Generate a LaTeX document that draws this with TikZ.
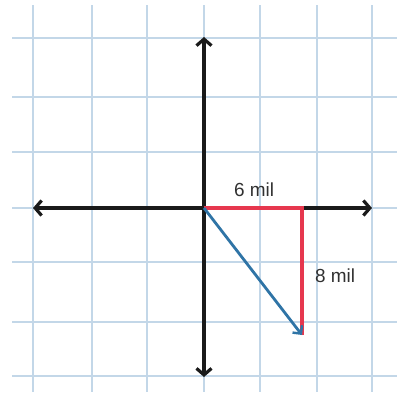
\documentclass[tikz,border=0pt]{standalone}
\usepackage{fontspec}
\setmainfont{Liberation Sans}
\usetikzlibrary{arrows.meta}
\definecolor{gridblue}{HTML}{C3D7E8}
\definecolor{vred}{HTML}{E6374E}
\definecolor{vblue}{HTML}{2F74A6}
\definecolor{axblack}{HTML}{1A1A1A}
\begin{document}
\begin{tikzpicture}[x=1bp,y=-1bp,
  gridline/.style={gridblue,line width=1.2bp},
  axis/.style={axblack,line width=3.2bp,-{Straight Barb[length=6.5bp,width=15bp,line width=3.2bp]}},
  redline/.style={vred,line width=3.2bp},
  bluearrow/.style={vblue,line width=2.8bp,-{Straight Barb[length=6bp,width=12bp,line width=2.4bp]}},
  lbl/.style={font=\fontsize{19}{19}\selectfont,text=axblack!90,inner sep=0pt}]
\useasboundingbox (0,0) rectangle (399,395);
\fill[white] (0,0) rectangle (399,395);
\foreach \x in {33,92,147,204,260,317,372} \draw[gridline] (\x,5) -- (\x,392);
\foreach \y in {38,97,152,208,262,322,376} \draw[gridline] (12,\y) -- (397,\y);
\coordinate (O) at (204,208);
\coordinate (L) at (33,208);
\coordinate (R) at (372,208);
\coordinate (U) at (204,37);
\coordinate (D) at (204,377);
\coordinate (C) at (302,208);
\coordinate (P) at (302,335);
\draw[axis] (O) -- (L);
\draw[axis] (O) -- (R);
\draw[axis] (O) -- (U);
\draw[axis] (O) -- (D);
\draw[redline] (O) -- (C) -- (P);
\draw[bluearrow] (O) -- (P);
\node[lbl] (a) at (254,190) {6 mil};
\node[lbl] (b) at (335,276) {8 mil};
\end{tikzpicture}
\end{document}
